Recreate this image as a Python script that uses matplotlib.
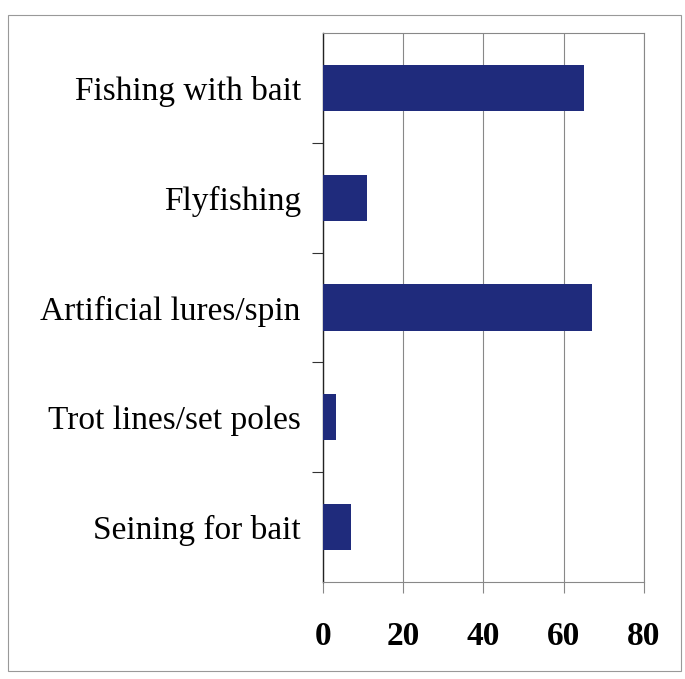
from matplotlib import pyplot as plt
from matplotlib.patches import Rectangle

categories = ["Fishing with bait", "Flyfishing", "Artificial lures/spin",
              "Trot lines/set poles", "Seining for bait"]
values = [65, 11, 67, 3.3, 7]
xticks = [0, 20, 40, 60, 80]

plt.rcParams['font.family'] = ['Liberation Serif', 'DejaVu Serif']

fig = plt.figure(figsize=(6.85, 6.79), dpi=100)
ax = fig.add_axes([0.4715, 0.1429, 0.4686, 0.8085])

ypos = list(range(len(categories)))[::-1]
ax.barh(ypos, values, height=0.42, color='#1f2b7c', zorder=3)

ax.set_xlim(0, 80)
ax.set_ylim(-0.5, len(categories) - 0.5)
ax.set_xticks(xticks)
ax.set_xticklabels([str(t) for t in xticks], fontsize=24, fontweight='bold')
ax.set_yticks(ypos)
ax.set_yticklabels(categories, fontsize=24)
ax.set_yticks([y + 0.5 for y in ypos[1:]], minor=True)

ax.tick_params(axis='y', which='major', length=0, pad=16)
ax.tick_params(axis='y', which='minor', length=8, width=0.8, direction='out', color='#333333')
ax.tick_params(axis='x', length=8, width=0.8, direction='out', color='#888888', pad=20)

ax.grid(True, axis='x', color='#888888', linewidth=0.8, zorder=0)
for side in ['top', 'right', 'bottom']:
    ax.spines[side].set_color('#888888')
    ax.spines[side].set_linewidth(0.8)
ax.spines['left'].set_color('#222222')
ax.spines['left'].set_linewidth(1.0)

fig.patches.append(Rectangle((0.012, 0.012), 0.982, 0.966, transform=fig.transFigure,
                             fill=False, edgecolor='#999999', linewidth=0.8))

plt.savefig('out.png', dpi=100)
